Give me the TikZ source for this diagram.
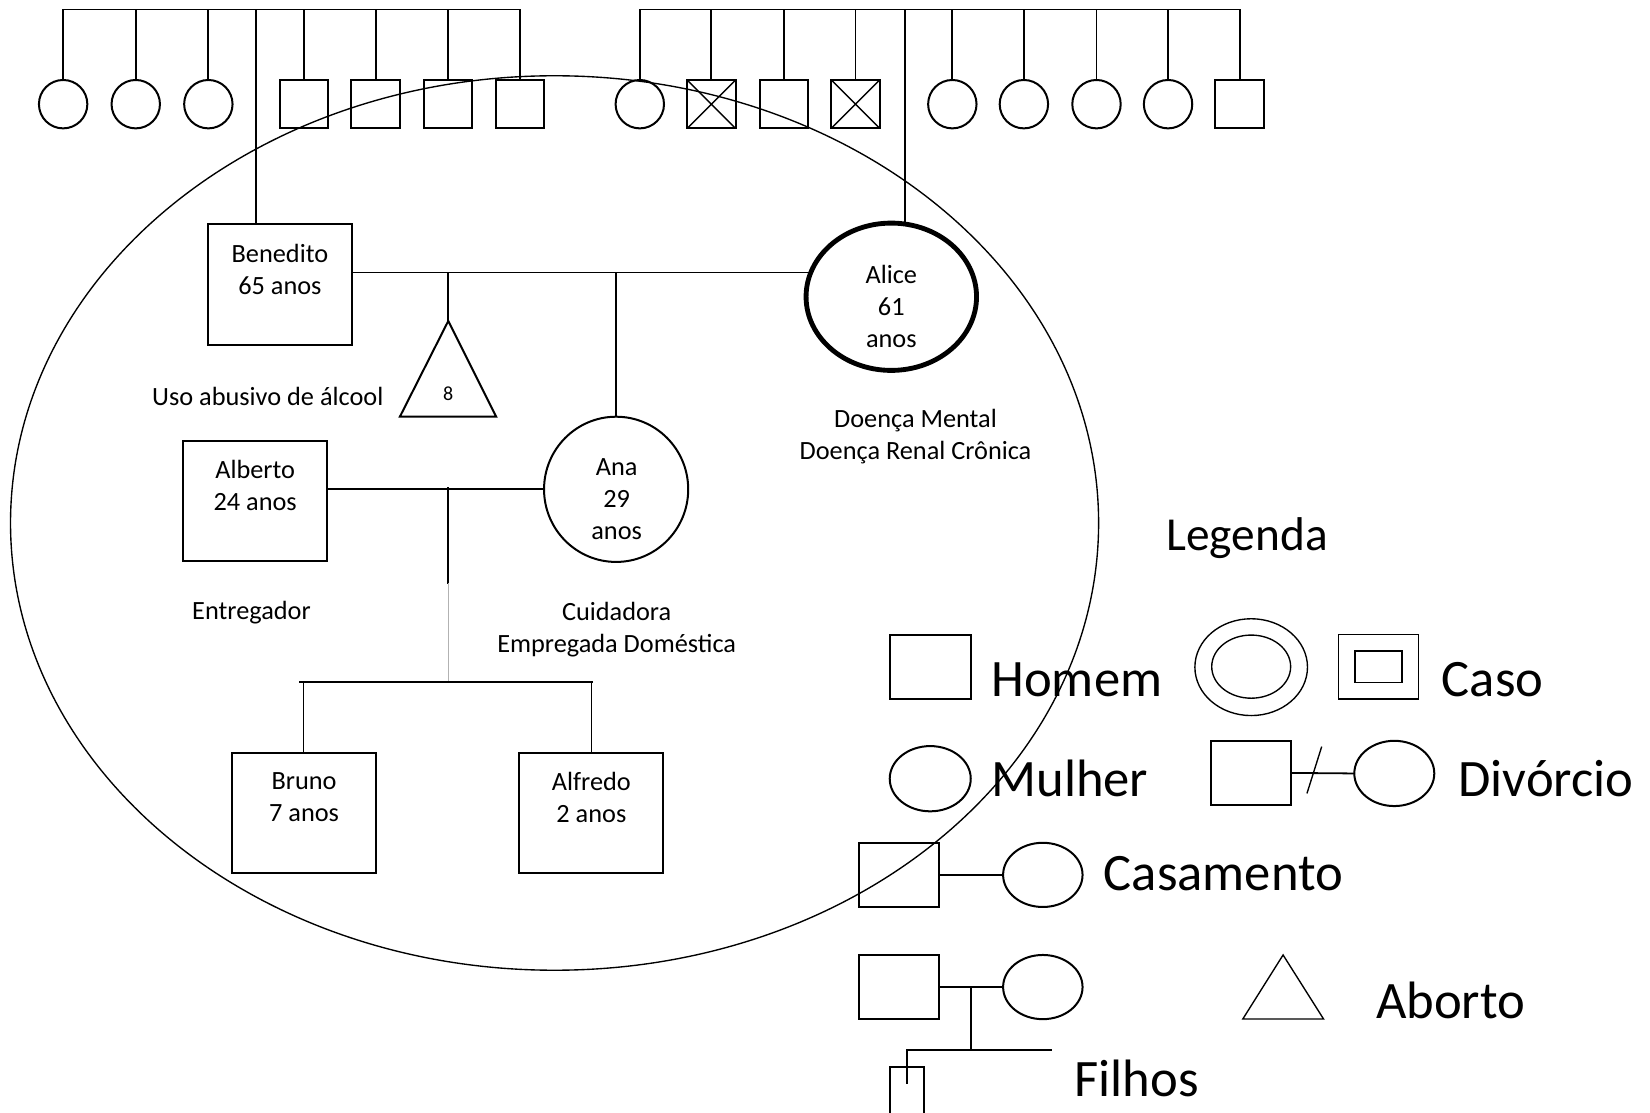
\documentclass[tikz,border=0pt]{standalone}
\usepackage{fontspec}
\setmainfont{Carlito}
\usepackage{tikz}
\usetikzlibrary{positioning,shapes.geometric}
\tikzset{%
  elo/.style={
    line width=1.7pt,
    line cap=rect
  },
  homem/.style={
    draw,
    line width=1.9pt,
    minimum width=46,
    minimum height=46,
    inner sep=0pt
  },
  mulher/.style={
    homem,
    ellipse
  },
  falecido/.style={
    homem,
    path picture={
      \draw[line width=1.3pt] (path picture bounding box.north west) -- (path picture bounding box.south east)
        (path picture bounding box.north east) -- (path picture bounding box.south west);
    }
  },
  nome/.style={
    align=center,
    inner sep=0pt,
    font=\fontsize{25}{30.5}\selectfont
  },
  legenda/.style={
    anchor=base west,
    inner sep=0pt,
    font=\fontsize{50}{60}\selectfont
  },
  fino/.style={
    draw,
    ellipse,
    line width=1.3pt,
    inner sep=0pt
  },
}

\begin{document}
\begin{tikzpicture}[x=1pt, y=-1pt]
\useasboundingbox (0,0) rectangle (1568,1057);

% irmaos de Benedito
\foreach \x/\tipo [count=\i] in {60/mulher,129/mulher,198/mulher,289/homem,357/homem,426/homem,494/homem}
    \node[\tipo] (irm_b_\i) at (\x,99) {};
\coordinate (pais_b) at (243,9);
\draw[elo] (irm_b_1.north |- pais_b) -- (irm_b_7.north |- pais_b);
\foreach \i in {1,...,7}
    \draw[elo] (irm_b_\i.north) -- (irm_b_\i.north |- pais_b);

% irmaos de Alice
\foreach \x/\tipo [count=\i] in {608/mulher,676/falecido,745/homem,813/falecido,905/mulher,973/mulher,1042/mulher,1110/mulher,1178/homem}
    \node[\tipo] (irm_a_\i) at (\x,99) {};
\coordinate (pais_a) at (860,9);
\draw[elo] (irm_a_1.north |- pais_a) -- (irm_a_9.north |- pais_a);
\foreach \i in {1,...,9}
    \draw[elo] (irm_a_\i.north) -- (irm_a_\i.north |- pais_a);

% casal Benedito e Alice
\node[homem, minimum width=137, minimum height=115] (benedito) at (265.7,270.5) {};
\node[nome] (benedito_txt) at (266,256) {Benedito\\65 anos};
\node[mulher, line width=4.6pt, minimum width=162, minimum height=140] (alice) at (847,282) {};
\node[nome] (alice_txt) at (847,291) {Alice\\61\\anos};
\draw[elo] (pais_b) -- (pais_b |- benedito.north);
\draw[elo] (pais_a) -- (pais_a |- alice.north);
\coordinate (uniao_ba) at (426,259);
\draw[elo] (benedito.east |- uniao_ba) -- (uniao_ba -| alice.163);

\coordinate (aborto) at (426,305);
\draw[elo] (uniao_ba) -- (aborto);
\draw[line width=1.9pt] (aborto) -- (471.5,396) -- (380,396) -- cycle;
\node[nome, font=\fontsize{19}{22}\selectfont] (aborto_txt) at (426,374) {8};
\node[nome] (alcool_txt) at (254.5,377) {Uso abusivo de álcool};
\node[nome] (doenca_txt) at (870,415) {Doença Mental\\Doença Renal Crônica};

% casal Alberto e Ana
\node[mulher, minimum width=137, minimum height=138] (ana) at (585.5,465) {};
\node[nome] (ana_txt) at (586,474) {Ana\\29\\anos};
\draw[elo] (ana.north |- uniao_ba) -- (ana.north);
\node[homem, minimum width=137, minimum height=114] (alberto) at (242.6,476) {};
\node[nome] (alberto_txt) at (242.5,461) {Alberto\\24 anos};
\draw[elo] (alberto.east |- ana.west) -- (ana.west);
\node[nome] (entregador_txt) at (239,582.5) {Entregador};
\node[nome] (cuidadora_txt) at (586,598) {Cuidadora\\Empregada Doméstica};

\coordinate (uniao_aa) at (426,464);
\coordinate (corte) at (426,554);
\coordinate (filhos_aa) at (426,648);
\draw[elo] (uniao_aa) -- (corte);
\draw[gray!60, line width=0.8pt] (corte) -- (filhos_aa);

% filhos
\node[homem, minimum width=137, minimum height=114] (bruno) at (288.5,772.3) {};
\node[nome] (bruno_txt) at (289,757.5) {Bruno\\7 anos};
\node[homem, minimum width=137, minimum height=114] (alfredo) at (562,772.3) {};
\node[nome] (alfredo_txt) at (562,757.5) {Alfredo\\2 anos};
\draw[elo, line width=2.6pt] ([xshift=-3pt]bruno.north |- filhos_aa) -- (alfredo.north |- filhos_aa);
\draw[elo] (bruno.north |- filhos_aa) -- (bruno.north);
\draw[elo] (alfredo.north |- filhos_aa) -- (alfredo.north);

% fronteira
\draw[line width=1.3pt] (527,497) ellipse [x radius=517pt, y radius=425pt];

% legenda
\node[anchor=base, inner sep=0pt, font=\fontsize{45}{54}\selectfont] (leg_titulo) at (1185,523) {Legenda};

\node[homem, minimum width=77, minimum height=61] (leg_homem) at (884.5,633.5) {};
\node[legenda] (leg_homem_txt) at (942,662) {Homem};
\node[fino, minimum width=107, minimum height=92] (leg_caso_f) at (1189,634) {};
\node[fino, minimum width=75, minimum height=60] (leg_caso_fi) at (1189,633.5) {};
\node[homem, line width=1.5pt, minimum width=76, minimum height=61] (leg_caso_m) at (1310,633.5) {};
\node[homem, line width=1.5pt, minimum width=45, minimum height=30] (leg_caso_mi) at (1310,633.4) {};
\node[legenda] (leg_caso_txt) at (1370,662) {Caso};

\node[mulher, minimum width=77, minimum height=62] (leg_mulher) at (884,740) {};
\node[legenda] (leg_mulher_txt) at (942,757) {Mulher};
\node[homem, minimum width=76, minimum height=61] (leg_div_m) at (1188.6,734.5) {};
\node[mulher, minimum width=76, minimum height=62] (leg_div_f) at (1325,735) {};
\draw[elo] (leg_div_m.east) -- (leg_div_f.west);
\coordinate (div_a) at (1256,709.5);
\coordinate (div_b) at (1242,754);
\draw[line width=1.3pt] (div_a) -- (div_b);
\node[legenda] (leg_div_txt) at (1385.7,757) {Divórcio};

\node[homem, minimum width=76.5, minimum height=61] (leg_cas_m) at (854.3,831.4) {};
\node[mulher, minimum width=75.5, minimum height=61] (leg_cas_f) at (991,831.4) {};
\draw[elo] (leg_cas_m.east) -- (leg_cas_f.west);
\node[legenda] (leg_cas_txt) at (1048.7,846) {Casamento};

\node[homem, minimum width=76.5, minimum height=61] (leg_fil_m) at (854.3,938) {};
\node[mulher, minimum width=75.5, minimum height=61] (leg_fil_f) at (991,938) {};
\draw[elo] (leg_fil_m.east) -- (leg_fil_f.west);
\coordinate (fil_uniao) at (922.6,938);
\coordinate (fil_barra) at (922.6,998);
\coordinate (fil_filho) at (862,998);
\coordinate (fil_fim) at (998.6,998);
\draw[elo] (fil_uniao) -- (fil_barra);
\draw[elo] (fil_filho) -- (fil_fim);
\draw[elo] (fil_filho) -- (862,1029);
\draw[line width=1.5pt] (846,1060) |- (878,1014) -- (878,1060);
\node[legenda] (leg_fil_txt) at (1021,1042) {Filhos};

\coordinate (leg_aborto) at (1219.3,907.5);
\draw[line width=1.3pt] (leg_aborto) -- (1257.8,968.4) -- (1181,968.4) -- cycle;
\node[legenda] (leg_aborto_txt) at (1307.4,967.7) {Aborto};
\end{tikzpicture}
\end{document}
